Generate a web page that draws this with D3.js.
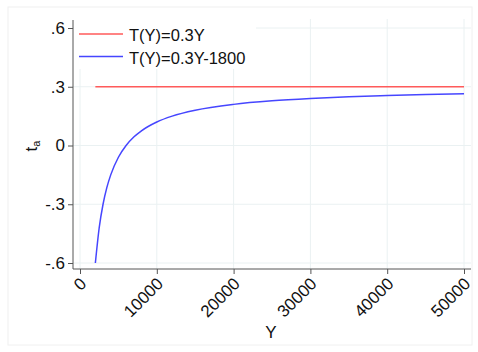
<!DOCTYPE html>
<html>
<head>
<meta charset="utf-8">
<script src="https://cdn.jsdelivr.net/npm/d3@7"></script>
<style>
body { margin: 0; background: #fff; }
svg { font-family: "Liberation Sans", Arial, sans-serif; }
</style>
</head>
<body>
<div id="chart"></div>
<script>
// values
var incomeY = [2000, 2500, 3000, 3500, 4000, 5000, 6000, 7000, 8000, 10000, 12000, 15000, 20000, 25000, 30000, 35000, 40000, 45000, 50000];
var flatRate = [0.3, 0.3, 0.3, 0.3, 0.3, 0.3, 0.3, 0.3, 0.3, 0.3, 0.3, 0.3, 0.3, 0.3, 0.3, 0.3, 0.3, 0.3, 0.3];
var avgRate = [-0.6, -0.42, -0.3, -0.214, -0.15, -0.06, 0, 0.043, 0.075, 0.12, 0.15, 0.18, 0.21, 0.228, 0.24, 0.249, 0.255, 0.26, 0.264];
var seriesNames = ["T(Y)=0.3Y", "T(Y)=0.3Y-1800"];
var xTicks = [0, 10000, 20000, 30000, 40000, 50000];
var yTicks = [-0.6, -0.3, 0, 0.3, 0.6];
var yTickLabels = ["-.6", "-.3", "0", ".3", ".6"];

var W = 478, H = 352;
var colors = ["#ff5a5a", "#4646ff"];
var ink = "#111";

var svg = d3.select("#chart").append("svg")
    .attr("width", W)
    .attr("height", H);

// outer frame
svg.append("rect")
    .attr("x", 8).attr("y", 7).attr("width", 464).attr("height", 338)
    .attr("fill", "none").attr("stroke", "#f0f0f0").attr("stroke-width", 1);

var x = d3.scaleLinear().domain([0, 50000]).range([80, 464]);
var y = d3.scaleLinear().domain([-0.6, 0.6]).range([263, 28]);

var plotLeft = 73, plotRight = 471, plotTop = 19, plotBottom = 269;

// grid
svg.append("g").selectAll("line").data(xTicks).enter().append("line")
    .attr("x1", d => x(d)).attr("x2", d => x(d))
    .attr("y1", plotTop).attr("y2", plotBottom)
    .attr("stroke", "#eaf1f2").attr("stroke-width", 1);
svg.append("g").selectAll("line").data(yTicks).enter().append("line")
    .attr("x1", plotLeft).attr("x2", plotRight)
    .attr("y1", d => y(d)).attr("y2", d => y(d))
    .attr("stroke", "#eaf1f2").attr("stroke-width", 1);

// lines
var line = d3.line()
    .x(d => x(d[0]))
    .y(d => y(d[1]))
    .curve(d3.curveMonotoneX);

[flatRate, avgRate].forEach(function(vals, i) {
    svg.append("path")
        .datum(incomeY.map((v, j) => [v, vals[j]]))
        .attr("fill", "none")
        .attr("stroke", colors[i])
        .attr("stroke-width", 1.5)
        .attr("d", line);
});

// legend box
var leg = svg.append("g");
leg.append("rect")
    .attr("x", 74).attr("y", 19).attr("width", 182).attr("height", 50)
    .attr("fill", "#fff");
seriesNames.forEach(function(name, i) {
    var ly = 34 + i * 22.5;
    leg.append("line")
        .attr("x1", 79).attr("x2", 123).attr("y1", ly).attr("y2", ly)
        .attr("stroke", colors[i]).attr("stroke-width", 1.5);
    leg.append("text")
        .attr("x", 129).attr("y", ly + 1)
        .attr("dominant-baseline", "central")
        .attr("font-size", "16.5px").attr("fill", ink)
        .text(name);
});

// y axis
var yAxis = svg.append("g")
    .attr("transform", "translate(" + plotLeft + ",0)")
    .call(d3.axisLeft(y).tickValues(yTicks).tickSize(5).tickSizeOuter(0)
        .tickFormat((d, i) => yTickLabels[i]));
yAxis.select(".domain").attr("d", "M0," + 20 + "V" + plotBottom).attr("stroke", "#555");
yAxis.selectAll(".tick line").attr("stroke", "#555");
yAxis.selectAll(".tick text")
    .attr("font-size", "17px").attr("fill", ink)
    .attr("font-family", "Liberation Sans, Arial, sans-serif")
    .attr("x", -8);

// x axis
var xAxis = svg.append("g")
    .attr("transform", "translate(0," + plotBottom + ")")
    .call(d3.axisBottom(x).tickValues(xTicks).tickSize(5).tickSizeOuter(0)
        .tickFormat(d3.format("d")));
xAxis.select(".domain").attr("d", "M" + plotLeft + ",0H" + plotRight).attr("stroke", "#555");
xAxis.selectAll(".tick line").attr("stroke", "#555");
xAxis.selectAll(".tick text")
    .attr("font-size", "17px").attr("fill", ink)
    .attr("font-family", "Liberation Sans, Arial, sans-serif")
    .attr("text-anchor", "end")
    .attr("dominant-baseline", "central")
    .attr("x", 0).attr("y", 0).attr("dy", null)
    .attr("transform", "translate(3,12) rotate(-45)");

// axis titles
svg.append("text")
    .attr("x", 271).attr("y", 338)
    .attr("text-anchor", "middle")
    .attr("font-size", "17px").attr("fill", ink)
    .text("Y");

var yt = svg.append("text")
    .attr("transform", "translate(37,146) rotate(-90)")
    .attr("text-anchor", "middle")
    .attr("font-size", "17px").attr("fill", ink);
yt.append("tspan").text("t");
yt.append("tspan").attr("font-size", "11px").attr("dy", 3).text("a");
</script>
</body>
</html>
